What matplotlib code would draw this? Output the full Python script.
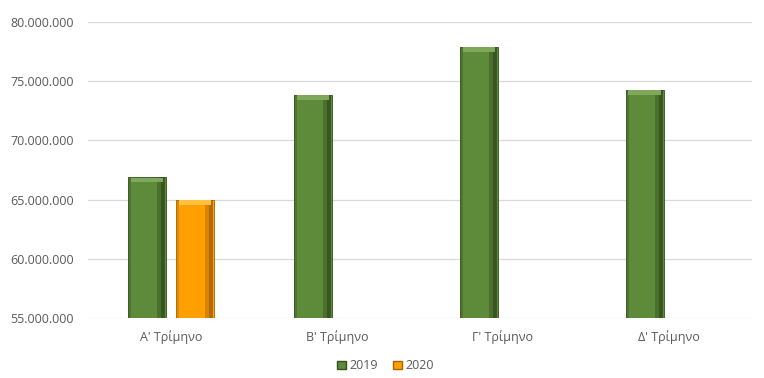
import numpy as np
import matplotlib.pyplot as plt
from matplotlib.patches import Patch
from matplotlib.ticker import FuncFormatter

# ---------------- DATA ----------------
quarters = ["Α' Τρίμηνο", "Β' Τρίμηνο", "Γ' Τρίμηνο", "Δ' Τρίμηνο"]
sales_2019 = [66.88e6, 73.83e6, 77.92e6, 74.26e6]
sales_2020 = [65.0e6, np.nan, np.nan, np.nan]
series_names = ["2019", "2020"]

# ---------------- STYLE ----------------
plt.rcParams["font.family"] = ["Open Sans", "DejaVu Sans"]
GREEN = "#5E8B3A"
GREEN_DARK = "#34501F"
GREEN_LIGHT = "#7FA85A"
ORANGE = "#FFA000"
ORANGE_DARK = "#A86400"
ORANGE_LIGHT = "#FFC23F"
TEXT = "#595959"
YMIN, YMAX = 55e6, 80e6

fig = plt.figure(figsize=(7.64, 3.78), dpi=100)
ax = fig.add_axes([0.115, 0.159, 0.869, 0.783])

x = np.arange(len(quarters))
width = 0.23
offset = 0.145


def bevel_bars(xs, vals, face, dark, light):
    vals = np.asarray(vals, dtype=float)
    ok = ~np.isnan(vals)
    xs, vals = xs[ok], vals[ok]
    h = vals - YMIN
    ax.bar(xs, h, width, bottom=YMIN, color=face, edgecolor=dark,
           linewidth=0.6, zorder=3)
    # shaded right side (two steps for a soft bevel)
    ax.bar(xs + width * 0.36, h, width * 0.20, bottom=YMIN, color=dark,
           linewidth=0, alpha=0.45, zorder=4)
    ax.bar(xs + width * 0.42, h, width * 0.10, bottom=YMIN, color=dark,
           linewidth=0, alpha=0.8, zorder=4)
    # thin shaded left side
    ax.bar(xs - width * 0.45, h, width * 0.08, bottom=YMIN, color=dark,
           linewidth=0, alpha=0.35, zorder=4)
    # lighter top bevel
    cap = 0.4e6
    ax.bar(xs, np.full_like(h, cap), width * 0.85, bottom=vals - cap * 1.1,
           color=light, linewidth=0, zorder=4)


bevel_bars(x - offset, sales_2019, GREEN, GREEN_DARK, GREEN_LIGHT)
bevel_bars(x + offset, sales_2020, ORANGE, ORANGE_DARK, ORANGE_LIGHT)

ax.set_ylim(YMIN, YMAX)
ax.set_xlim(-0.5, len(quarters) - 0.5)
ax.set_yticks(np.arange(YMIN, YMAX + 1, 5e6))
ax.yaxis.set_major_formatter(FuncFormatter(lambda v, p: f"{int(v):,}".replace(",", ".")))
ax.set_xticks(x)
ax.set_xticklabels(quarters)
ax.tick_params(axis="both", length=0, labelsize=9, colors=TEXT)
ax.tick_params(axis="x", pad=9)
ax.tick_params(axis="y", pad=10)

ax.grid(axis="y", color="#D9D9D9", linewidth=0.9, zorder=0)
for s in ax.spines.values():
    s.set_visible(False)

handles = [Patch(facecolor=GREEN, edgecolor=GREEN_DARK),
           Patch(facecolor=ORANGE, edgecolor=ORANGE_DARK)]
fig.legend(handles, series_names, loc="center", bbox_to_anchor=(0.505, 0.032),
           ncol=2, frameon=False, fontsize=9, handlelength=0.7, handleheight=0.7,
           handletextpad=0.3, columnspacing=1.2, labelcolor=TEXT)

fig.savefig("out.png", dpi=100)
